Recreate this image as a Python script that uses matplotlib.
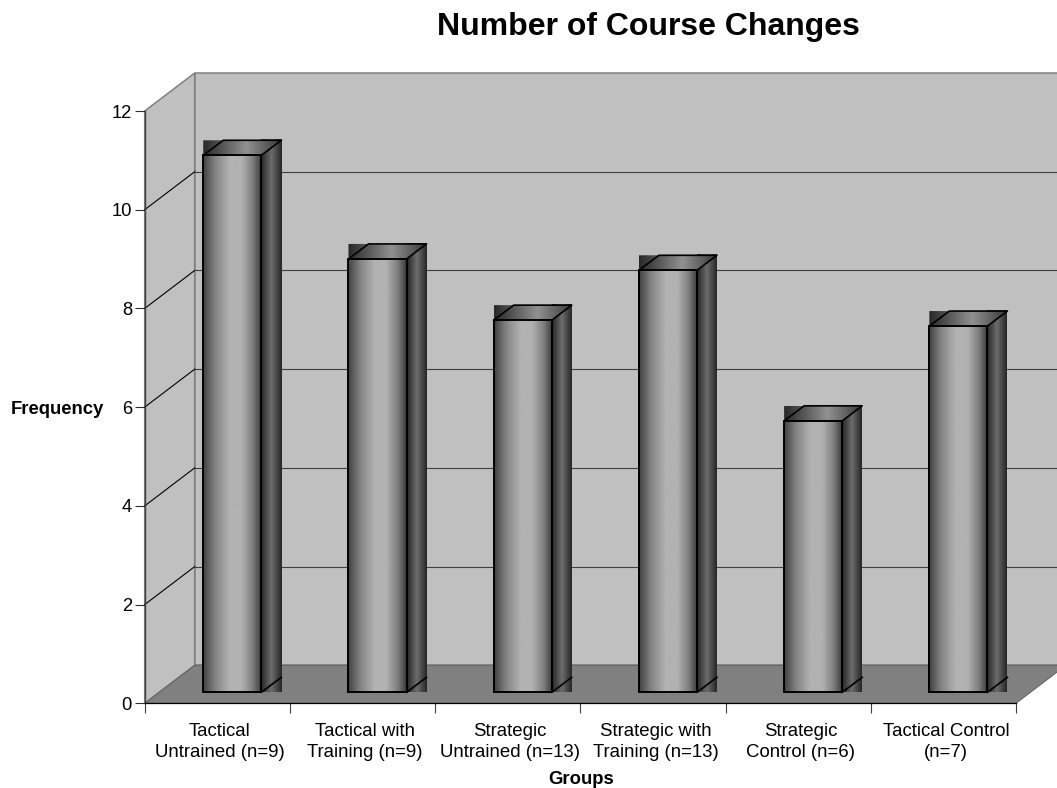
import numpy as np
import matplotlib
matplotlib.use("Agg")
import matplotlib.pyplot as plt
from matplotlib.patches import Polygon
from matplotlib.transforms import ScaledTranslation

plt.rcParams['font.family'] = ['Liberation Sans', 'DejaVu Sans']

groups = ["Tactical\nUntrained (n=9)", "Tactical with\nTraining (n=9)", "Strategic\nUntrained (n=13)",
          "Strategic with\nTraining (n=13)", "Strategic\nControl (n=6)", "Tactical Control\n(n=7)"]
frequency = [10.88, 8.78, 7.54, 8.55, 5.5, 7.42]
y_ticks = [0, 2, 4, 6, 8, 10, 12]

W, H = 1057, 788
L, R, B, T = 144.7, 1016.0, 703.3, 111.0
fig = plt.figure(figsize=(W / 100, H / 100), dpi=100, facecolor='white')
ax = fig.add_axes([L / W, 1 - B / H, (R - L) / W, (B - T) / H])
ax.set_facecolor('none')

sx = 6 / (R - L)      # data units per pixel
sy = 12 / (B - T)
wall_dx, wall_dy = 50 * sx, 38 * sy
shift_dx, shift_dy = 15 * sx, 11 * sy
bar_dx, bar_dy = 20 * sx, 15 * sy
bar_w = 0.4
far = 6 + 60 * sx

WALL = '#C0C0C0'
FLOOR = '#808080'
EDGE = '#808080'


def poly(pts, **kw):
    p = Polygon(pts, closed=True, transform=ax.transData, clip_on=False, **kw)
    ax.add_patch(p)
    return p


# left wall, back wall, floor
poly([(0, 0), (0, 12), (wall_dx, 12 + wall_dy), (wall_dx, wall_dy)], fc=WALL, ec=EDGE, lw=1.1, zorder=1)
poly([(wall_dx, wall_dy), (wall_dx, 12 + wall_dy), (far, 12 + wall_dy), (far, wall_dy)], fc=WALL, ec=EDGE, lw=1.1, zorder=1)
poly([(0, 0), (wall_dx, wall_dy), (6 + wall_dx, wall_dy), (6, 0)], fc=FLOOR, ec='#606060', lw=0.7, zorder=1.5)

# grid lines on both walls
for v in y_ticks[1:-1]:
    ax.plot([0, wall_dx], [v, v + wall_dy], color='black', lw=0.8, clip_on=False, zorder=1.6)
    ax.plot([wall_dx, far], [v + wall_dy, v + wall_dy], color='#404040', lw=0.8, clip_on=False, zorder=1.6)


def gradient(x0, x1, y0, y1, stops, levels, clip, z):
    t = np.linspace(0, 1, 128)
    g = np.interp(t, stops, levels)[None, :]
    im = ax.imshow(g, extent=[x0, x1, y0, y1], cmap='gray', vmin=0, vmax=255,
                   aspect='auto', interpolation='bilinear', zorder=z)
    if clip is not None:
        im.set_clip_path(Polygon(clip, closed=True, transform=ax.transData))
    return im


for i, v in enumerate(frequency):
    x0 = i + 0.5 + shift_dx - bar_w / 2
    x1 = x0 + bar_w
    y0 = shift_dy
    y1 = shift_dy + v
    # dark back block: side face and the corners round the top
    gradient(x1, x1 + bar_dx, y0, y1 + bar_dy, [0, .5, 1], [38, 108, 38], None, 2.0)
    gradient(x0, x1 + bar_dx, y1, y1 + bar_dy, [0, .55, 1], [40, 145, 55],
             [(x0, y1), (x1, y1), (x1 + bar_dx, y1 + bar_dy), (x0 + bar_dx, y1 + bar_dy), (x0, y1 + bar_dy)], 2.0)
    # front face
    gradient(x0, x1, y0, y1, [0, .2, .45, .65, .85, 1], [65, 130, 178, 178, 125, 55], None, 2.1)
    ax.plot([x0, x1, x1, x0, x0], [y0, y0, y1, y1, y0], color='black', lw=1.4, zorder=2.3, solid_joinstyle='miter')
    # top and side outlines
    ax.plot([x0, x0 + bar_dx, x1 + bar_dx, x1], [y1, y1 + bar_dy, y1 + bar_dy, y1], color='black', lw=1.2, zorder=2.3)
    ax.plot([x1, x1 + bar_dx], [y0, y0 + bar_dy], color='black', lw=1.2, zorder=2.3)

ax.set_xlim(0, 6)
ax.set_ylim(0, 12)

for s in ('top', 'right'):
    ax.spines[s].set_visible(False)
ax.spines['left'].set_color('#404040')
ax.spines['left'].set_linewidth(1.0)
ax.spines['bottom'].set_color('black')
ax.spines['bottom'].set_linewidth(0.9)

ax.set_yticks(y_ticks)
ax.tick_params(axis='y', length=7.2, width=0.8, labelsize=13.2, pad=2, color='#303030')
ax.set_xticks(range(7))
ax.set_xticklabels([])
ax.tick_params(axis='x', which='major', length=7.2, width=0.8, color='#404040')
ax.set_xticks(np.arange(6) + 0.5, minor=True)
ax.set_xticklabels(groups, minor=True, fontsize=13.4, linespacing=1.33)
ax.tick_params(axis='x', which='minor', length=0, pad=14)
offset = ScaledTranslation(2.5 / 72 * 0.72, 0, fig.dpi_scale_trans)
for lab in ax.get_xticklabels(minor=True):
    lab.set_transform(lab.get_transform() + offset)

fig.text(648 / W, 1 - 27 / H, "Number of Course Changes", fontsize=23, fontweight='bold', ha='center', va='center')
fig.text(57.5 / W, 1 - 410 / H, "Frequency", fontsize=13.3, fontweight='bold', ha='center', va='center')
fig.text(581 / W, 1 - 780 / H, "Groups", fontsize=13.3, fontweight='bold', ha='center', va='center')

fig.savefig('out.png', dpi=100)
